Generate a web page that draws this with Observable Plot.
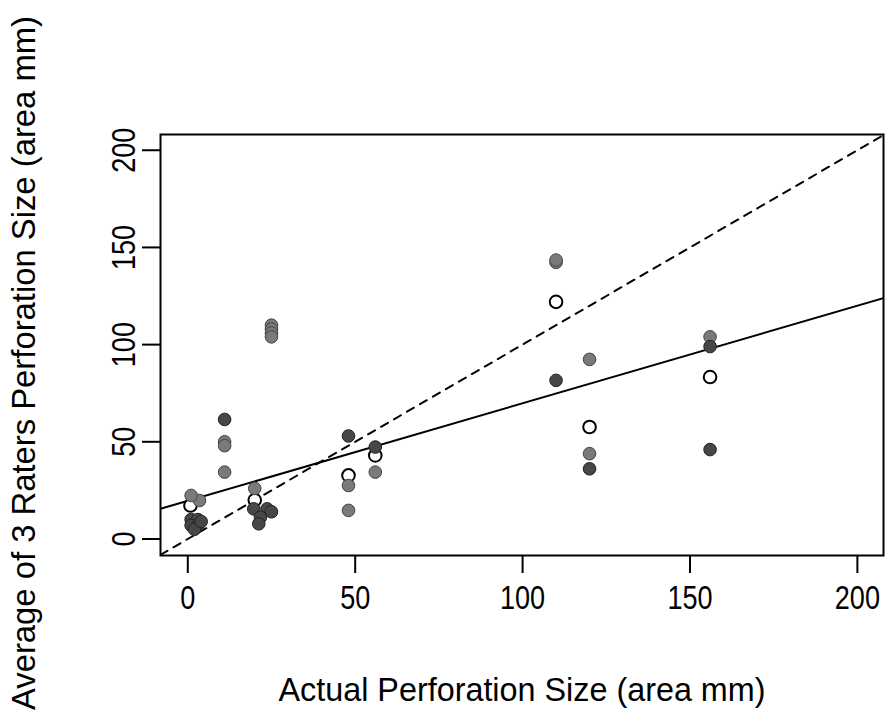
<!DOCTYPE html>
<html><head><meta charset="utf-8">
<script src="https://cdn.jsdelivr.net/npm/d3@7"></script>
<script src="https://cdn.jsdelivr.net/npm/@observablehq/plot@0.6"></script>
<style>body{margin:0;background:#fff}</style>
</head><body><div id="chart"></div>
<script>
// ---- data ----
const xTicks = [0, 50, 100, 150, 200];
const yTicks = [0, 50, 100, 150, 200];
const xTitle = "Actual Perforation Size (area mm)";
const yTitle = "Average of 3 Raters Perforation Size (area mm)";

const openX = [0.8, 20, 48, 56, 110, 120, 156];
const openY = [17.2, 20, 32.7, 43, 122, 57.6, 83.3];

const midX = [3.5, 11, 11, 11, 48, 48, 56, 110, 110, 120, 120, 156, 25, 25, 25, 25, 1, 20];
const midY = [19.8, 50, 48, 34.4, 27.5, 14.7, 34.4, 142.3, 143.5, 92.4, 43.9, 104, 110, 108, 106, 104, 22.4, 26];

const darkX = [11, 48, 56, 110, 120, 156, 156, 1, 3, 1, 3, 2, 4, 19.7, 23.7, 21.7, 21.2, 25];
const darkY = [61.5, 53, 47.3, 81.6, 36.1, 46, 99, 10, 10, 7, 7, 5, 9, 15.5, 15.5, 11.2, 7.8, 14];

// fitted line (intercept, slope) and identity line
const lineNames = ["fit", "identity"];
const lineIntercepts = [19.6, 0];
const lineSlopes = [0.502, 1];

// ---- build ----
const xDomain = [-8.15, 207.8];
const yDomain = [-8.5, 208.1];
const toPts = (xs, ys) => xs.map((x, i) => ({x, y: ys[i]}));
const lines = lineNames.map((n, i) => xDomain.map(x => ({name: n, x, y: lineIntercepts[i] + lineSlopes[i] * x})));

const font = "'Liberation Sans', Arial, sans-serif";

const chart = Plot.plot({
  width: 888, height: 716,
  marginLeft: 160, marginRight: 5, marginTop: 134, marginBottom: 161,
  style: {fontFamily: font, fontSize: "33px", color: "#000", background: "#fff"},
  x: {domain: xDomain},
  y: {domain: yDomain},
  marks: [
    Plot.line(lines[1], {x: "x", y: "y", stroke: "#000", strokeWidth: 2, strokeDasharray: "8,7", clip: true}),
    Plot.line(lines[0], {x: "x", y: "y", stroke: "#000", strokeWidth: 2, clip: true}),
    Plot.dot(toPts(openX, openY), {x: "x", y: "y", r: 6.3, fill: "#fff", stroke: "#000", strokeWidth: 2}),
    Plot.dot(toPts(midX, midY), {x: "x", y: "y", r: 6.3, fill: "#7a7a7a", stroke: "#444", strokeWidth: 1}),
    Plot.dot(toPts(darkX, darkY), {x: "x", y: "y", r: 6.3, fill: "#474747", stroke: "#222", strokeWidth: 1}),
    Plot.frame({stroke: "#000", strokeWidth: 2}),
    Plot.axisX(xTicks, {ticks: xTicks, tickSize: 18, tickPadding: 12, strokeWidth: 2, label: null, fontSize: 33}),
    Plot.axisY(yTicks, {ticks: yTicks, tickSize: 18, tickPadding: 8, tickRotate: -90, strokeWidth: 2, label: null, fontSize: 33}),
    Plot.text([xTitle], {text: d => d, frameAnchor: "bottom", dy: 135, fontSize: 34, lineAnchor: "middle", textAnchor: "middle"}),
    Plot.text([yTitle], {text: d => d, frameAnchor: "left", dx: -136, dy: 18, rotate: -90, fontSize: 33, lineAnchor: "middle", textAnchor: "middle"})
  ]
});
document.getElementById("chart").appendChild(chart);

// condense glyphs like the reference's narrow typeface
chart.querySelectorAll("text").forEach(t => {
  const len = t.getComputedTextLength();
  let target = len * 0.82;
  if (t.textContent === xTitle) target = 487;
  if (t.textContent === yTitle) target = 694;
  t.setAttribute("textLength", target);
  t.setAttribute("lengthAdjust", "spacingAndGlyphs");
});
</script>
</body></html>
